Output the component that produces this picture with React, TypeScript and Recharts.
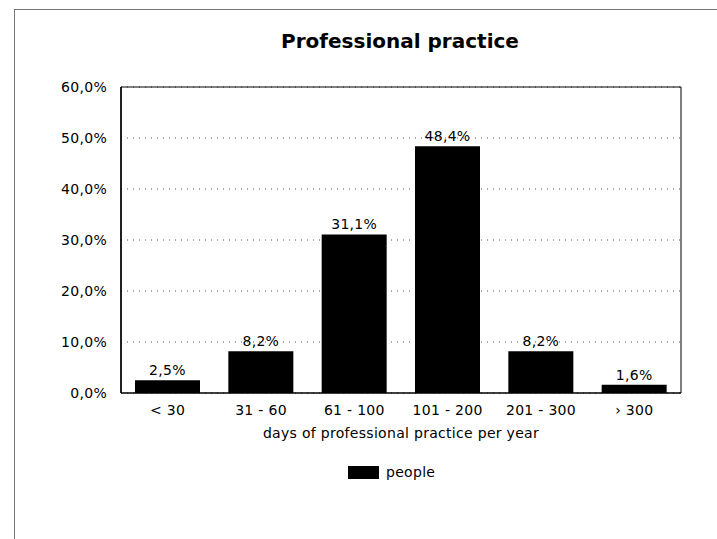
import React from "react";
import {
  BarChart,
  Bar,
  XAxis,
  YAxis,
  CartesianGrid,
  LabelList,
  ReferenceArea,
} from "recharts";

const categories = ["< 30", "31 - 60", "61 - 100", "101 - 200", "201 - 300", "› 300"];
const peopleValues = [2.5, 8.2, 31.1, 48.4, 8.2, 1.6];
const yTicks = [0, 10, 20, 30, 40, 50, 60];
const seriesName = "people";
const chartTitle = "Professional practice";
const xAxisTitle = "days of professional practice per year";

const data = categories.map((c, i) => ({ category: c, people: peopleValues[i] }));

const pct = (v: number) => `${Number(v).toFixed(1).replace(".", ",")}%`;

const FONT = "'DejaVu Sans', 'Liberation Sans', sans-serif";
const TXT = { fill: "#000", fontSize: 14, fontFamily: FONT, letterSpacing: 0.3 };

export default function App() {
  return (
    <div
      style={{
        position: "absolute",
        left: 0,
        top: 0,
        width: 717,
        height: 539,
        background: "#fff",
        fontFamily: FONT,
      }}
    >
      {/* outer frame */}
      <div style={{ position: "absolute", left: 14, top: 9, width: 1, height: 530, background: "#777" }} />
      <div style={{ position: "absolute", left: 14, top: 9, width: 703, height: 1, background: "#777" }} />
      {/* title */}
      <div
        style={{
          position: "absolute",
          left: 0,
          top: 29,
          width: 800,
          textAlign: "center",
          fontFamily: FONT,
          fontWeight: "bold",
          fontSize: 20,
          color: "#000",
        }}
      >
        {chartTitle}
      </div>
      <BarChart
        width={717}
        height={539}
        data={data}
        margin={{ top: 87, right: 36, bottom: 96, left: 0 }}
        barCategoryGap="15%"
      >
        <CartesianGrid vertical={false} stroke="#555" strokeDasharray="1 5" />
        <XAxis
          dataKey="category"
          tickLine={false}
          axisLine={{ stroke: "#000" }}
          height={50}
          tick={TXT}
          tickMargin={6}
          interval={0}
          label={{
            value: xAxisTitle,
            position: "insideBottom",
            offset: 5,
            ...TXT,
          }}
        />
        <YAxis
          width={121}
          domain={[0, 60]}
          ticks={yTicks}
          tickFormatter={pct}
          tickLine={false}
          axisLine={{ stroke: "#000", strokeWidth: 1.5 }}
          tick={TXT}
          tickMargin={8}
        />
        <ReferenceArea y1={0} y2={60} fill="none" stroke="#000" strokeWidth={1} ifOverflow="visible" />
        <Bar dataKey="people" name={seriesName} fill="#000" isAnimationActive={false}>
          <LabelList
            dataKey="people"
            position="top"
            offset={5}
            formatter={(v: any) => pct(v)}
            style={TXT}
          />
        </Bar>
      </BarChart>
      {/* legend */}
      <div
        style={{
          position: "absolute",
          left: 348,
          top: 464,
          display: "flex",
          alignItems: "center",
          fontSize: 14,
          letterSpacing: 0.3,
          fontFamily: FONT,
          color: "#000",
        }}
      >
        <span style={{ display: "inline-block", width: 31, height: 13, background: "#000", marginRight: 7 }} />
        <span>{seriesName}</span>
      </div>
    </div>
  );
}
